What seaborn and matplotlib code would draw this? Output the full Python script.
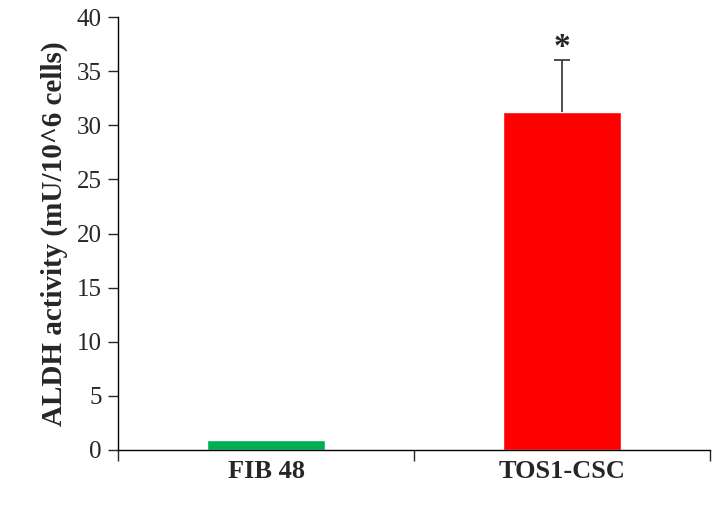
import pandas as pd
import seaborn as sns
import matplotlib.pyplot as plt
import numpy as np

groups = ['FIB 48', 'TOS1-CSC']
activity = [0.9, 31.2]
err_up = [0.0, 4.8]
colors = ['#00B050', '#FF0000']

df = pd.DataFrame({'group': groups, 'activity': activity})

sns.set_style('white')
plt.rcParams['font.family'] = ['Liberation Serif', 'DejaVu Serif']

fig = plt.figure(figsize=(7.12, 5.05), dpi=100)
ax = fig.add_axes([0.166, 0.109, 0.831, 0.857])

sns.barplot(data=df, x='group', y='activity', hue='group', palette=colors,
            width=0.4, legend=False, ax=ax, saturation=1)
eb = ax.errorbar([1], [activity[1]], yerr=[[0], [err_up[1]]], fmt='none',
                 ecolor='#404040', elinewidth=1.3, capsize=6, capthick=1.3)
# only the upper cap is drawn in the original
eb[1][0].set_visible(False)
ax.text(1, 35.8, '*', ha='center', va='bottom', fontsize=24, fontweight='bold')

ax.set_ylim(0, 40)
ax.set_xlim(-0.5, 1.5)
ax.set_yticks(np.arange(0, 41, 5))
ax.tick_params(axis='y', labelsize=18, length=7, width=1, direction='out', left=True, pad=5)
ax.set_xticks([-0.5, 0.5, 1.5], minor=True)
ax.tick_params(axis='x', which='minor', length=8, width=1, bottom=True, direction='out')
ax.tick_params(axis='x', which='major', length=0, labelsize=19, pad=7)
for lab in ax.get_xticklabels():
    lab.set_fontweight('bold')
ax.set_xlabel('')
ax.set_ylabel('ALDH activity (mU/10^6 cells)', fontsize=21, fontweight='bold', labelpad=6)

for s in ['top', 'right']:
    ax.spines[s].set_visible(False)
for s in ['left', 'bottom']:
    ax.spines[s].set_color('black')
    ax.spines[s].set_linewidth(1)

plt.savefig('out.png', dpi=100)
